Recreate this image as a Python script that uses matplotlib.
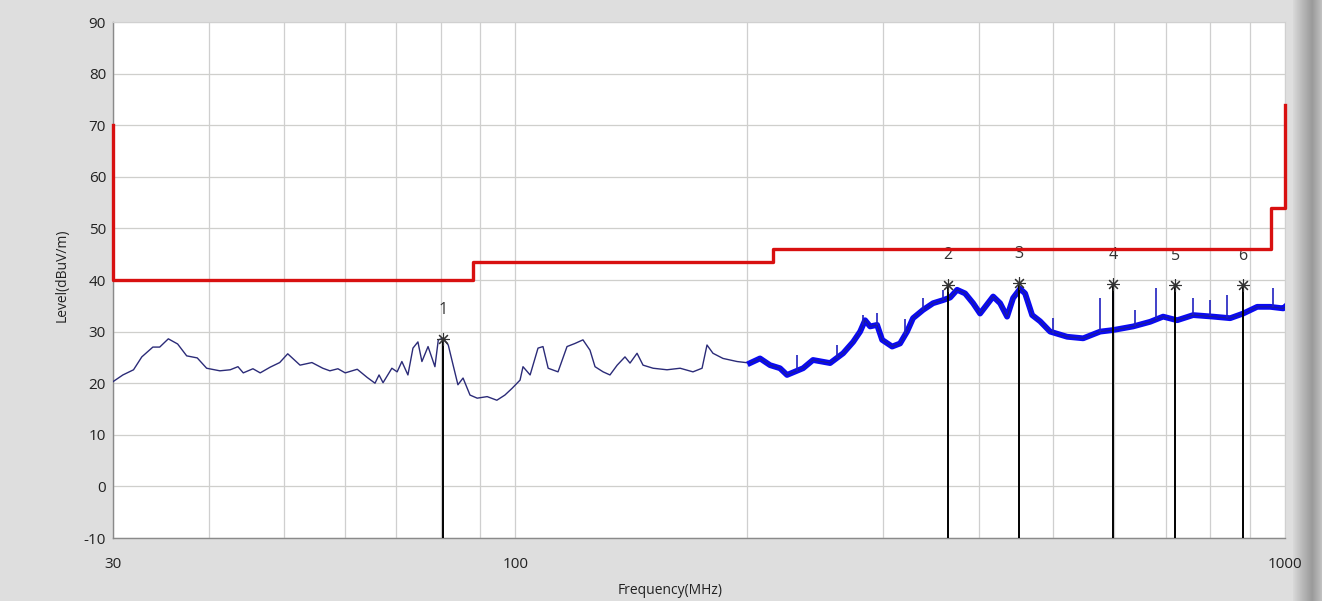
import numpy as np
import matplotlib
matplotlib.use("Agg")
import matplotlib.pyplot as plt

plt.rcParams['font.family'] = ['Open Sans', 'DejaVu Sans']
plt.rcParams['axes.unicode_minus'] = False

# ---------------- data ----------------
limit_freqs = [30, 30, 88, 88, 216, 216, 960, 960, 1000, 1000]
limit_levels = [70, 40, 40, 43.5, 43.5, 46, 46, 54, 54, 74]

trace_low_freqs = [30.0, 30.9, 31.9, 32.7, 33.8, 34.5, 35.4, 36.4, 37.4, 38.6,
                   39.7, 41.3, 42.6, 43.6, 44.3, 45.6, 46.6, 48.0, 49.4, 50.6,
                   52.5, 54.4, 56.2, 57.4, 58.8, 60.1, 62.3, 64.2, 65.7, 66.5,
                   67.3, 69.1, 70.2, 71.2, 72.5, 73.6, 74.7, 75.6, 77.0, 78.6,
                   79.4, 80.5, 81.8, 83.0, 84.2, 85.5, 87.3, 89.2, 91.9, 94.6,
                   96.9, 99.0, 101.4, 102.3, 104.5, 107.0, 108.6, 110.3, 113.6, 116.7,
                   119.5, 122.4, 125.0, 126.9, 130.0, 132.7, 135.6, 138.8, 140.9, 143.9,
                   146.5, 151.0, 157.4, 163.7, 170.1, 174.8, 177.4, 180.6, 186.1, 194.1,
                   201.8]
trace_low_levels = [20.3, 21.6, 22.6, 25.1, 27.0, 27.0, 28.6, 27.6, 25.3, 24.9,
                    22.9, 22.4, 22.6, 23.2, 22.0, 22.8, 22.0, 23.1, 24.0, 25.7,
                    23.5, 24.0, 22.9, 22.4, 22.8, 22.0, 22.7, 21.1, 20.0, 21.6,
                    20.1, 22.9, 22.2, 24.2, 21.6, 26.8, 28.0, 24.2, 27.1, 23.2,
                    28.4, 28.7, 27.4, 23.5, 19.7, 21.0, 17.7, 17.1, 17.4, 16.7,
                    17.7, 19.0, 20.6, 23.2, 21.6, 26.8, 27.1, 22.9, 22.2, 27.1,
                    27.7, 28.4, 26.4, 23.2, 22.2, 21.6, 23.5, 25.1, 23.9, 25.8,
                    23.5, 22.9, 22.6, 22.9, 22.2, 22.9, 27.4, 25.8, 24.8, 24.2,
                    23.9]

trace_high_freqs = [201.8, 207.9, 214.2, 220.7, 225.4, 236.5, 243.6, 256.4, 266.6, 274.7,
                    280.5, 284.7, 289.0, 295.1, 299.6, 308.7, 316.1, 322.8, 328.6, 338.6,
                    348.9, 359.5, 367.2, 374.9, 384.0, 393.3, 401.6, 417.6, 426.4, 435.4,
                    443.3, 452.7, 459.5, 469.3, 480.6, 495.2, 521.1, 546.7, 575.2, 597.9,
                    634.8, 668.0, 694.4, 724.2, 759.7, 806.6, 848.7, 882.4, 920.2, 956.7,
                    994.7, 1000.0]
trace_high_levels = [23.9, 24.8, 23.5, 22.9, 21.6, 22.9, 24.5, 23.9, 25.8, 28.0,
                     30.0, 32.2, 31.0, 31.3, 28.4, 27.1, 27.7, 30.0, 32.6, 34.2,
                     35.5, 36.1, 36.6, 38.1, 37.4, 35.5, 33.5, 36.8, 35.5, 32.9,
                     36.5, 38.3, 37.4, 33.2, 32.0, 30.0, 29.0, 28.7, 30.0, 30.3,
                     31.0, 31.9, 32.9, 32.2, 33.2, 32.9, 32.6, 33.5, 34.8, 34.8,
                     34.5, 34.8]

spike_freqs = [232.0, 262.0, 283.0, 295.1, 320.9, 338.6, 359.5, 500.0, 575.2, 598.0,
               638.6, 680.0, 759.7, 799.4, 841.1, 965.3]
spike_levels = [25.5, 27.5, 33.2, 33.6, 32.5, 36.5, 38.1, 32.6, 36.5, 37.5,
                34.2, 38.5, 36.5, 36.1, 37.1, 38.5]

marker_labels = ['1', '2', '3', '4', '5', '6']
marker_freqs = [80.5, 365.0, 451.0, 598.0, 720.0, 882.0]
marker_levels = [28.6, 39.1, 39.4, 39.2, 39.0, 39.0]

x_ticks = [30, 100, 1000]
y_ticks = [-10, 0, 10, 20, 30, 40, 50, 60, 70, 80, 90]

# ---------------- figure ----------------
W, H = 1322, 601
fig = plt.figure(figsize=(W / 100, H / 100), dpi=100)
fig.patch.set_facecolor('#dedede')

# right 3D border strip
bax = fig.add_axes([1293 / W, 0, 29 / W, 1])
grad = np.linspace(0, 1, 50)[None, :]
bax.imshow(grad, aspect='auto', cmap=matplotlib.colors.LinearSegmentedColormap.from_list(
    'g', ['#d8d8d8', '#b8b8b8', '#9a9a9a', '#c0c0c0']), extent=[0, 1, 0, 1])
bax.axis('off')

ax = fig.add_axes([113 / W, 1 - 538 / H, (1285 - 113) / W, (538 - 22) / H])
ax.set_facecolor('white')
ax.set_xscale('log')
ax.set_xlim(30, 1000)
ax.set_ylim(-10, 90)

ax.grid(True, which='both', axis='x', color='#cfcfcf', lw=0.9)
ax.grid(True, which='major', axis='y', color='#cfcfcc', lw=0.9)
ax.set_axisbelow(True)

ax.set_xticks(x_ticks)
ax.set_xticklabels([str(t) for t in x_ticks])
ax.set_yticks(y_ticks)
ax.tick_params(axis='both', which='both', length=0, labelsize=11, colors='#222222')
ax.tick_params(axis='x', pad=14)
ax.tick_params(axis='y', pad=5)
ax.xaxis.set_minor_formatter(matplotlib.ticker.NullFormatter())

for s in ['left', 'bottom']:
    ax.spines[s].set_color('#8a8a8a')
    ax.spines[s].set_linewidth(1.0)
for s in ['top', 'right']:
    ax.spines[s].set_color('#d0d0d0')
    ax.spines[s].set_linewidth(0.8)

# traces
ax.plot(trace_low_freqs, trace_low_levels, color='#2b2b78', lw=1.0, zorder=3)
ax.plot(trace_high_freqs, trace_high_levels, color='#0a0af0', lw=4.2, zorder=3,
        solid_joinstyle='round')
ax.plot(trace_high_freqs, trace_high_levels, color='#202088', lw=0.7, zorder=3)
spike_base = np.interp(np.log10(spike_freqs), np.log10(trace_high_freqs), trace_high_levels)
ax.vlines(spike_freqs, spike_base, spike_levels, color='#2020c0', lw=1.2, zorder=3)

# limit line
ax.plot(limit_freqs, limit_levels, color='#d81010', lw=2.4, zorder=4, clip_on=False)

# markers
ax.vlines(marker_freqs, -10, marker_levels, color='black', lw=1.4, zorder=5)
ax.plot(marker_freqs, marker_levels, linestyle='none', marker=(8, 2, 0), ms=9,
        mec='#333333', mew=0.8, zorder=6)
for lab, f, l in zip(marker_labels, marker_freqs, marker_levels):
    ax.annotate(lab, (f, l), xytext=(0, 21), textcoords='offset points',
                ha='center', va='center', fontsize=11.5, color='#333333')

fig.text(62 / W, 1 - 275 / H, 'Level(dBuV/m)', rotation=90, ha='center', va='center',
         fontsize=10, color='#222222')
fig.text(670 / W, 1 - 590 / H, 'Frequency(MHz)', ha='center', va='center',
         fontsize=10, color='#222222')

fig.savefig('out.png', dpi=100, facecolor=fig.get_facecolor())
